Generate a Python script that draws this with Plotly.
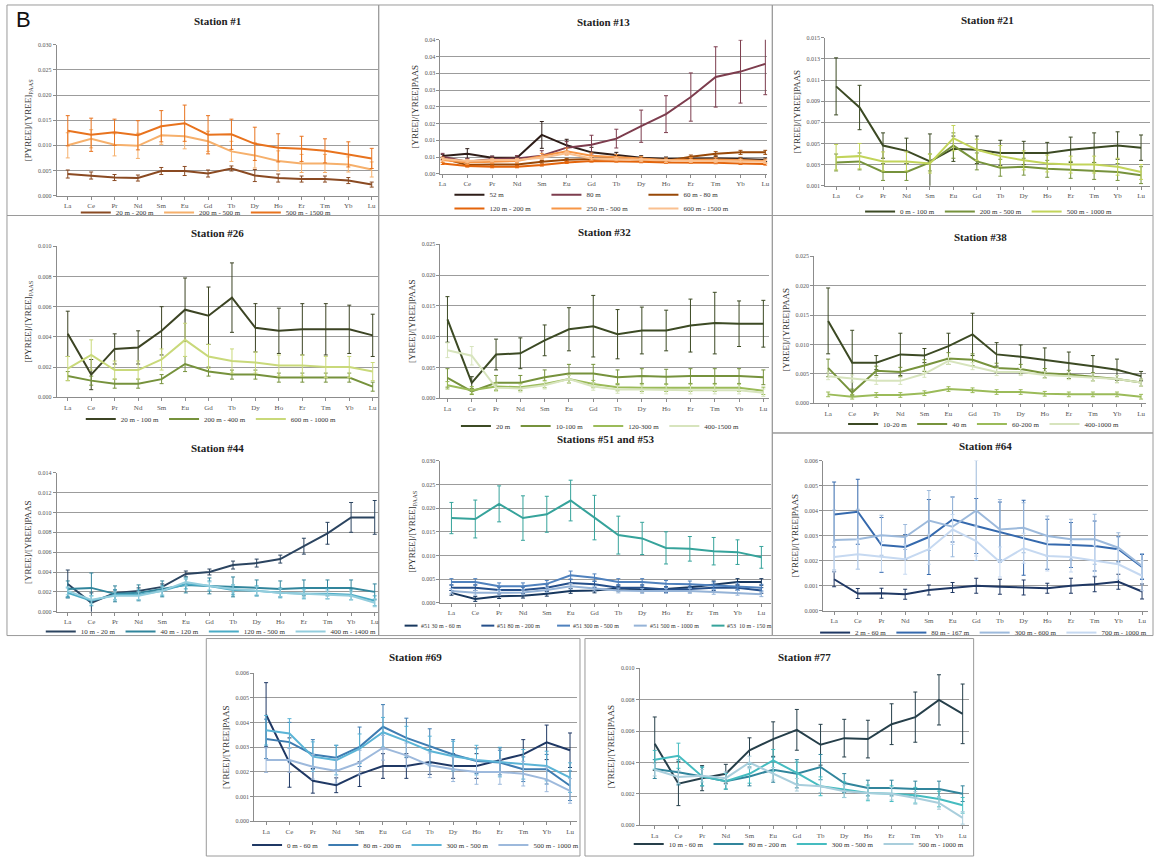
import plotly.graph_objects as go

W, H = 1157, 861
ELEMENTS = ["La", "Ce", "Pr", "Nd", "Sm", "Eu", "Gd", "Tb", "Dy", "Ho", "Er", "Tm", "Yb", "Lu"]

# ---------------- Station #1 ----------------
ST1_NAMES = ["20 m - 200 m", "200 m - 500 m", "500 m - 1500 m"]
ST1_VALUES = [
    [0.0043, 0.0040, 0.0036, 0.0035, 0.0049, 0.0049, 0.0044, 0.0054, 0.0040, 0.0035, 0.0033, 0.0033, 0.0030, 0.0022],
    [0.0100, 0.0113, 0.0101, 0.0099, 0.0120, 0.0118, 0.0108, 0.0088, 0.0080, 0.0069, 0.0064, 0.0064, 0.0062, 0.0052],
    [0.0129, 0.0121, 0.0126, 0.0120, 0.0138, 0.0144, 0.0121, 0.0122, 0.0103, 0.0095, 0.0093, 0.0089, 0.0082, 0.0074],
]
ST1_ERRORS = [
    [0.0008, 0.0007, 0.0006, 0.0006, 0.0007, 0.0009, 0.0007, 0.0005, 0.0012, 0.0008, 0.0006, 0.0006, 0.0006, 0.0005],
    [0.0025, 0.0018, 0.0022, 0.0025, 0.0018, 0.0025, 0.0020, 0.0020, 0.0025, 0.0020, 0.0018, 0.0018, 0.0015, 0.0015],
    [0.0030, 0.0033, 0.0026, 0.0029, 0.0031, 0.0036, 0.0038, 0.0030, 0.0033, 0.0028, 0.0025, 0.0024, 0.0025, 0.0020],
]
ST1_COLORS = ["#8a4a22", "#f6b06c", "#e8731e"]

# ---------------- Station #13 ----------------
ST13_NAMES = ["52 m", "80 m", "60 m - 80 m", "120 m - 200 m", "250 m - 500 m", "600 m - 1500 m"]
ST13_VALUES = [
    [0.0053, 0.0060, 0.0048, 0.0048, 0.0116, 0.0085, 0.0064, 0.0056, 0.0048, 0.0044, 0.0046, 0.0046, 0.0044, 0.0042],
    [0.0051, 0.0036, 0.0044, 0.0046, 0.0054, 0.0078, 0.0087, 0.0105, 0.0142, 0.0178, 0.0229, 0.0289, 0.0305, 0.0328],
    [0.0046, 0.0026, 0.0028, 0.0028, 0.0036, 0.0042, 0.0044, 0.0048, 0.0041, 0.0038, 0.0051, 0.0060, 0.0064, 0.0064],
    [0.0031, 0.0023, 0.0021, 0.0021, 0.0026, 0.0034, 0.0038, 0.0038, 0.0036, 0.0034, 0.0034, 0.0033, 0.0031, 0.0029],
    [0.0041, 0.0034, 0.0036, 0.0038, 0.0053, 0.0067, 0.0054, 0.0051, 0.0046, 0.0041, 0.0043, 0.0043, 0.0041, 0.0038],
    [0.0044, 0.0038, 0.0041, 0.0041, 0.0048, 0.0061, 0.0046, 0.0044, 0.0041, 0.0038, 0.0038, 0.0038, 0.0038, 0.0036],
]
ST13_ERRORS = [
    [0.0005, 0.0015, 0.0005, 0.0005, 0.0040, 0.0018, 0.0015, 0.0008, 0.0006, 0.0006, 0.0005, 0.0005, 0.0005, 0.0005],
    [0.0010, 0.0010, 0.0008, 0.0008, 0.0015, 0.0018, 0.0028, 0.0028, 0.0048, 0.0055, 0.0072, 0.0090, 0.0094, 0.0092],
    [0.0004, 0.0004, 0.0004, 0.0004, 0.0004, 0.0004, 0.0004, 0.0004, 0.0004, 0.0004, 0.0005, 0.0006, 0.0006, 0.0006],
    [0.0003, 0.0003, 0.0003, 0.0003, 0.0003, 0.0003, 0.0003, 0.0003, 0.0003, 0.0003, 0.0003, 0.0003, 0.0003, 0.0003],
    [0.0006, 0.0006, 0.0006, 0.0006, 0.0008, 0.0010, 0.0008, 0.0007, 0.0006, 0.0006, 0.0006, 0.0006, 0.0006, 0.0006],
    [0.0005, 0.0005, 0.0005, 0.0005, 0.0005, 0.0006, 0.0005, 0.0005, 0.0005, 0.0005, 0.0005, 0.0005, 0.0005, 0.0005],
]
ST13_COLORS = ["#2e1d18", "#7d3d4e", "#984807", "#e4640a", "#f79646", "#fac08f"]

# ---------------- Station #21 ----------------
ST21_NAMES = ["0 m - 100 m", "200 m - 500 m", "500 m - 1000 m"]
ST21_VALUES = [
    [0.0104, 0.0084, 0.0048, 0.0043, 0.0033, 0.0045, 0.0044, 0.0041, 0.0041, 0.0041, 0.0044, 0.0046, 0.0048, 0.0046],
    [0.0032, 0.0033, 0.0023, 0.0023, 0.0032, 0.0048, 0.0033, 0.0027, 0.0028, 0.0026, 0.0025, 0.0024, 0.0023, 0.0020],
    [0.0037, 0.0038, 0.0033, 0.0033, 0.0031, 0.0055, 0.0044, 0.0038, 0.0034, 0.0031, 0.0030, 0.0030, 0.0028, 0.0023],
]
ST21_ERRORS = [
    [0.0027, 0.0021, 0.0012, 0.0012, 0.0026, 0.0012, 0.0013, 0.0012, 0.0011, 0.0010, 0.0012, 0.0014, 0.0013, 0.0012],
    [0.0008, 0.0008, 0.0008, 0.0008, 0.0008, 0.0012, 0.0008, 0.0008, 0.0008, 0.0008, 0.0008, 0.0008, 0.0008, 0.0008],
    [0.0012, 0.0012, 0.0009, 0.0009, 0.0009, 0.0012, 0.0010, 0.0010, 0.0009, 0.0008, 0.0008, 0.0008, 0.0008, 0.0007],
]
ST21_COLORS = ["#3c4a24", "#76923c", "#c2d45a"]

# ---------------- Station #26 ----------------
ST26_NAMES = ["20 m - 100 m", "200 m - 400 m", "600 m - 1000 m"]
ST26_VALUES = [
    [0.0042, 0.0015, 0.0032, 0.0033, 0.0044, 0.0058, 0.0054, 0.0066, 0.0046, 0.0044, 0.0045, 0.0045, 0.0045, 0.0041],
    [0.0014, 0.0011, 0.0009, 0.0009, 0.0012, 0.0022, 0.0017, 0.0015, 0.0015, 0.0013, 0.0013, 0.0013, 0.0013, 0.0007],
    [0.0019, 0.0028, 0.0018, 0.0018, 0.0025, 0.0038, 0.0027, 0.0024, 0.0023, 0.0021, 0.0021, 0.0020, 0.0020, 0.0017],
]
ST26_ERRORS = [
    [0.0015, 0.0010, 0.0010, 0.0011, 0.0016, 0.0021, 0.0019, 0.0023, 0.0016, 0.0015, 0.0017, 0.0017, 0.0016, 0.0014],
    [0.0003, 0.0003, 0.0003, 0.0003, 0.0003, 0.0005, 0.0003, 0.0003, 0.0003, 0.0003, 0.0003, 0.0003, 0.0003, 0.0003],
    [0.0008, 0.0010, 0.0006, 0.0006, 0.0007, 0.0011, 0.0008, 0.0008, 0.0007, 0.0007, 0.0007, 0.0007, 0.0007, 0.0006],
]
ST26_COLORS = ["#3c4424", "#76923c", "#c9d97a"]

# ---------------- Station #32 ----------------
ST32_NAMES = ["20 m", "10-100 m", "120-300 m", "400-1500 m"]
ST32_VALUES = [
    [0.0128, 0.0025, 0.0071, 0.0073, 0.0094, 0.0112, 0.0117, 0.0104, 0.0110, 0.0110, 0.0118, 0.0122, 0.0121, 0.0121],
    [0.0033, 0.0011, 0.0025, 0.0025, 0.0034, 0.0040, 0.0040, 0.0034, 0.0036, 0.0035, 0.0036, 0.0036, 0.0036, 0.0034],
    [0.0021, 0.0013, 0.0019, 0.0018, 0.0023, 0.0031, 0.0023, 0.0018, 0.0017, 0.0017, 0.0017, 0.0017, 0.0017, 0.0012],
    [0.0078, 0.0069, 0.0017, 0.0016, 0.0021, 0.0031, 0.0019, 0.0014, 0.0014, 0.0013, 0.0013, 0.0013, 0.0013, 0.0009],
]
ST32_ERRORS = [
    [0.0037, 0.0010, 0.0025, 0.0025, 0.0025, 0.0035, 0.0050, 0.0040, 0.0038, 0.0033, 0.0043, 0.0050, 0.0037, 0.0038],
    [0.0015, 0.0005, 0.0012, 0.0012, 0.0012, 0.0015, 0.0015, 0.0012, 0.0012, 0.0012, 0.0012, 0.0012, 0.0012, 0.0012],
    [0.0006, 0.0006, 0.0006, 0.0006, 0.0006, 0.0006, 0.0006, 0.0006, 0.0006, 0.0006, 0.0006, 0.0006, 0.0006, 0.0006],
    [0.0012, 0.0015, 0.0006, 0.0006, 0.0006, 0.0006, 0.0006, 0.0006, 0.0006, 0.0006, 0.0006, 0.0006, 0.0006, 0.0006],
]
ST32_COLORS = ["#3c4a24", "#76923c", "#9bbb59", "#d7e4bd"]

# ---------------- Station #38 ----------------
ST38_NAMES = ["10-20 m", "40 m", "60-200 m", "400-1000 m"]
ST38_VALUES = [
    [0.0140, 0.0069, 0.0069, 0.0083, 0.0081, 0.0097, 0.0117, 0.0083, 0.0079, 0.0074, 0.0069, 0.0063, 0.0057, 0.0046],
    [0.0060, 0.0018, 0.0055, 0.0053, 0.0064, 0.0076, 0.0074, 0.0060, 0.0058, 0.0051, 0.0049, 0.0045, 0.0041, 0.0035],
    [0.0015, 0.0011, 0.0014, 0.0014, 0.0017, 0.0024, 0.0022, 0.0019, 0.0019, 0.0016, 0.0015, 0.0015, 0.0015, 0.0011],
    [0.0046, 0.0042, 0.0038, 0.0038, 0.0050, 0.0072, 0.0063, 0.0053, 0.0053, 0.0048, 0.0046, 0.0044, 0.0041, 0.0035],
]
ST38_ERRORS = [
    [0.0056, 0.0055, 0.0012, 0.0036, 0.0012, 0.0022, 0.0036, 0.0020, 0.0020, 0.0020, 0.0018, 0.0018, 0.0018, 0.0008],
    [0.0015, 0.0006, 0.0008, 0.0008, 0.0010, 0.0010, 0.0010, 0.0008, 0.0008, 0.0008, 0.0007, 0.0007, 0.0006, 0.0006],
    [0.0004, 0.0004, 0.0004, 0.0004, 0.0004, 0.0004, 0.0004, 0.0004, 0.0004, 0.0004, 0.0004, 0.0004, 0.0004, 0.0004],
    [0.0006, 0.0006, 0.0006, 0.0006, 0.0006, 0.0006, 0.0006, 0.0006, 0.0006, 0.0006, 0.0006, 0.0006, 0.0006, 0.0006],
]
ST38_COLORS = ["#3c4a24", "#77933c", "#9bbb59", "#d7e4bd"]

# ---------------- Station #44 ----------------
ST44_NAMES = ["10 m - 20 m", "40 m - 120 m", "120 m - 500 m", "400 m - 1400 m"]
ST44_VALUES = [
    [0.0028, 0.0009, 0.0019, 0.0021, 0.0025, 0.0038, 0.0040, 0.0047, 0.0049, 0.0053, 0.0066, 0.0079, 0.0095, 0.0095],
    [0.0023, 0.0024, 0.0018, 0.0019, 0.0023, 0.0027, 0.0026, 0.0025, 0.0024, 0.0023, 0.0024, 0.0024, 0.0024, 0.0020],
    [0.0019, 0.0011, 0.0017, 0.0017, 0.0021, 0.0028, 0.0026, 0.0022, 0.0021, 0.0019, 0.0018, 0.0018, 0.0017, 0.0011],
    [0.0021, 0.0012, 0.0016, 0.0016, 0.0021, 0.0030, 0.0026, 0.0023, 0.0021, 0.0019, 0.0018, 0.0017, 0.0016, 0.0009],
]
ST44_ERRORS = [
    [0.0014, 0.0010, 0.0003, 0.0003, 0.0003, 0.0003, 0.0003, 0.0004, 0.0004, 0.0004, 0.0008, 0.0011, 0.0015, 0.0017],
    [0.0008, 0.0015, 0.0008, 0.0008, 0.0008, 0.0008, 0.0008, 0.0010, 0.0008, 0.0008, 0.0008, 0.0008, 0.0008, 0.0008],
    [0.0005, 0.0005, 0.0005, 0.0005, 0.0005, 0.0005, 0.0005, 0.0005, 0.0005, 0.0005, 0.0005, 0.0005, 0.0005, 0.0005],
    [0.0004, 0.0004, 0.0004, 0.0004, 0.0004, 0.0004, 0.0004, 0.0004, 0.0004, 0.0004, 0.0004, 0.0004, 0.0004, 0.0004],
]
ST44_COLORS = ["#2b4460", "#31859c", "#4bacc6", "#93cddd"]

# ---------------- Stations #51 and #53 ----------------
ST51_NAMES = ["#51 30 m - 60 m", "#51 80 m - 200 m", "#51 300 m - 500 m", "#51 500 m - 1000 m", "#53  10 m - 150 m"]
ST51_VALUES = [
    [0.0021, 0.0008, 0.0014, 0.0015, 0.0019, 0.0025, 0.0026, 0.0030, 0.0028, 0.0029, 0.0033, 0.0039, 0.0044, 0.0044],
    [0.0032, 0.0032, 0.0027, 0.0027, 0.0032, 0.0042, 0.0039, 0.0032, 0.0032, 0.0028, 0.0029, 0.0032, 0.0032, 0.0026],
    [0.0044, 0.0044, 0.0035, 0.0035, 0.0040, 0.0058, 0.0053, 0.0044, 0.0044, 0.0040, 0.0039, 0.0037, 0.0035, 0.0032],
    [0.0025, 0.0021, 0.0021, 0.0022, 0.0027, 0.0035, 0.0030, 0.0026, 0.0025, 0.0025, 0.0025, 0.0023, 0.0021, 0.0018],
    [0.0179, 0.0177, 0.0209, 0.0179, 0.0187, 0.0216, 0.0180, 0.0143, 0.0136, 0.0116, 0.0114, 0.0109, 0.0107, 0.0096],
]
ST51_ERRORS = [
    [0.0005, 0.0005, 0.0005, 0.0005, 0.0005, 0.0005, 0.0005, 0.0005, 0.0005, 0.0005, 0.0006, 0.0007, 0.0007, 0.0007],
    [0.0006, 0.0006, 0.0006, 0.0006, 0.0006, 0.0008, 0.0007, 0.0006, 0.0006, 0.0006, 0.0006, 0.0006, 0.0006, 0.0006],
    [0.0007, 0.0007, 0.0007, 0.0007, 0.0007, 0.0009, 0.0008, 0.0007, 0.0007, 0.0007, 0.0007, 0.0007, 0.0007, 0.0007],
    [0.0005, 0.0005, 0.0005, 0.0005, 0.0005, 0.0006, 0.0005, 0.0005, 0.0005, 0.0005, 0.0005, 0.0005, 0.0005, 0.0005],
    [0.0033, 0.0040, 0.0038, 0.0047, 0.0038, 0.0043, 0.0047, 0.0040, 0.0034, 0.0034, 0.0026, 0.0029, 0.0026, 0.0023],
]
ST51_COLORS = ["#17375e", "#254f8a", "#4f81bd", "#95b3d7", "#36a39b"]

# ---------------- Station #64 ----------------
ST64_NAMES = ["2 m - 60 m", "80 m - 167 m", "300 m - 600 m", "700 m - 1000 m"]
ST64_VALUES = [
    [0.00126, 0.00069, 0.00070, 0.00066, 0.00083, 0.00093, 0.00100, 0.00096, 0.00093, 0.00090, 0.00100, 0.00106, 0.00116, 0.00077],
    [0.00385, 0.00396, 0.00263, 0.00255, 0.00295, 0.00365, 0.00339, 0.00315, 0.00292, 0.00266, 0.00263, 0.00259, 0.00246, 0.00175],
    [0.00283, 0.00286, 0.00302, 0.00295, 0.00361, 0.00336, 0.00401, 0.00325, 0.00332, 0.00299, 0.00286, 0.00286, 0.00252, 0.00179],
    [0.00215, 0.00226, 0.00216, 0.00206, 0.00246, 0.00325, 0.00279, 0.00195, 0.00250, 0.00219, 0.00215, 0.00200, 0.00186, 0.00140],
]
ST64_ERRORS = [
    [0.0003, 0.0002, 0.0002, 0.0002, 0.0002, 0.0002, 0.0003, 0.0003, 0.0003, 0.0002, 0.0003, 0.0003, 0.0003, 0.0003],
    [0.0013, 0.0013, 0.0011, 0.0005, 0.0015, 0.0009, 0.0011, 0.0012, 0.0015, 0.0010, 0.0009, 0.0010, 0.0005, 0.0005],
    [0.0012, 0.0012, 0.0008, 0.0005, 0.0012, 0.0012, 0.0020, 0.0012, 0.0010, 0.0008, 0.0008, 0.0010, 0.0006, 0.0005],
    [0.0006, 0.0006, 0.0006, 0.0006, 0.0006, 0.0006, 0.0006, 0.0006, 0.0006, 0.0006, 0.0006, 0.0006, 0.0006, 0.0006],
]
ST64_COLORS = ["#1f3864", "#3569ad", "#9dbadc", "#c6d9f1"]

# ---------------- Station #69 ----------------
ST69_NAMES = ["0 m - 60 m", "80 m - 200 m", "300 m - 500 m", "500 m - 1000 m"]
ST69_VALUES = [
    [0.00432, 0.00238, 0.00164, 0.00146, 0.00191, 0.00224, 0.00224, 0.00240, 0.00224, 0.00224, 0.00248, 0.00271, 0.00320, 0.00288],
    [0.00334, 0.00321, 0.00271, 0.00258, 0.00302, 0.00383, 0.00338, 0.00305, 0.00271, 0.00244, 0.00238, 0.00211, 0.00211, 0.00144],
    [0.00369, 0.00356, 0.00262, 0.00248, 0.00294, 0.00361, 0.00325, 0.00285, 0.00264, 0.00248, 0.00240, 0.00231, 0.00224, 0.00177],
    [0.00248, 0.00248, 0.00221, 0.00204, 0.00238, 0.00298, 0.00267, 0.00227, 0.00211, 0.00200, 0.00200, 0.00193, 0.00170, 0.00123],
]
ST69_ERRORS = [
    [0.0013, 0.0010, 0.0005, 0.0003, 0.0005, 0.0005, 0.0005, 0.0005, 0.0005, 0.0005, 0.0005, 0.0006, 0.0007, 0.0007],
    [0.0008, 0.0008, 0.0006, 0.0005, 0.0008, 0.0009, 0.0008, 0.0007, 0.0006, 0.0005, 0.0005, 0.0005, 0.0006, 0.0006],
    [0.0006, 0.0006, 0.0006, 0.0006, 0.0006, 0.0006, 0.0006, 0.0006, 0.0006, 0.0006, 0.0006, 0.0006, 0.0006, 0.0006],
    [0.0005, 0.0005, 0.0005, 0.0005, 0.0005, 0.0005, 0.0005, 0.0005, 0.0005, 0.0005, 0.0005, 0.0005, 0.0005, 0.0005],
]
ST69_COLORS = ["#1f3864", "#3e7cb1", "#5bb4d6", "#9db9dc"]

# ---------------- Station #77 ----------------
ST77_NAMES = ["10 m - 60 m", "80 m - 200 m", "300 m - 500 m", "500 m - 1000 m"]
ST77_VALUES = [
    [0.00520, 0.00265, 0.00300, 0.00328, 0.00477, 0.00549, 0.00608, 0.00513, 0.00555, 0.00549, 0.00644, 0.00689, 0.00799, 0.00710],
    [0.00358, 0.00337, 0.00311, 0.00280, 0.00311, 0.00354, 0.00328, 0.00371, 0.00269, 0.00237, 0.00237, 0.00231, 0.00231, 0.00201],
    [0.00417, 0.00443, 0.00311, 0.00280, 0.00328, 0.00413, 0.00333, 0.00248, 0.00227, 0.00206, 0.00201, 0.00191, 0.00167, 0.00127],
    [0.00354, 0.00307, 0.00316, 0.00300, 0.00400, 0.00328, 0.00258, 0.00248, 0.00216, 0.00206, 0.00201, 0.00174, 0.00142, 0.00047],
]
ST77_ERRORS = [
    [0.0017, 0.0014, 0.0008, 0.0006, 0.0008, 0.0011, 0.0013, 0.0013, 0.0012, 0.0012, 0.0013, 0.0016, 0.0016, 0.0019],
    [0.0006, 0.0008, 0.0006, 0.0005, 0.0006, 0.0008, 0.0009, 0.0008, 0.0006, 0.0005, 0.0005, 0.0005, 0.0005, 0.0005],
    [0.0006, 0.0008, 0.0006, 0.0005, 0.0006, 0.0007, 0.0007, 0.0006, 0.0005, 0.0005, 0.0005, 0.0005, 0.0005, 0.0005],
    [0.0004, 0.0004, 0.0004, 0.0004, 0.0004, 0.0004, 0.0004, 0.0004, 0.0004, 0.0004, 0.0004, 0.0004, 0.0004, 0.0004],
]
ST77_COLORS = ["#263f4a", "#31859c", "#45bcc0", "#a9cedc"]

Y_TITLE_P = "[PYREE]/[YREE]<sub>PAAS</sub>"
Y_TITLE_Y = "[YREE]/[YREE]PAAS"

# ---------------- layout geometry (pixels) ----------------
# legends: list of (y, series indices); "manual" legends are drawn as short lines + labels
PANELS = [
    dict(title="Station #1", data=(ST1_NAMES, ST1_VALUES, ST1_ERRORS, ST1_COLORS), ytitle=Y_TITLE_P,
         x0=55, x1=377, la=66, lu=371, top=42, bot=194, ymin=0, ymax=0.030, dtick=0.005, fmt=".3f",
         ty=18, legends=[(211, [0, 1, 2])], cx=205, lfs=7, ew=0),
    dict(title="Station #13", data=(ST13_NAMES, ST13_VALUES, ST13_ERRORS, ST13_COLORS), ytitle=Y_TITLE_Y,
         x0=440, x1=768, la=442, lu=766, top=37, bot=172, ymin=0, ymax=0.040, dtick=0.005,
         ticktext=["0.00", "0.01", "0.01", "0.02", "0.02", "0.03", "0.03", "0.04", "0.04"],
         ty=19, legends=[(193, [0, 1, 2]), (207, [3, 4, 5])], cx=595, lfs=7, ew=52),
    dict(title="Station #21", data=(ST21_NAMES, ST21_VALUES, ST21_ERRORS, ST21_COLORS), ytitle=Y_TITLE_Y,
         x0=826, x1=1152, la=837, lu=1143, top=35, bot=184, ymin=0.001, ymax=0.015, dtick=0.002, fmt=".3f",
         ty=17, legends=[(210, [0, 1, 2])], cx=990, lfs=7, ew=0),
    dict(title="Station #26", data=(ST26_NAMES, ST26_VALUES, ST26_ERRORS, ST26_COLORS), ytitle=Y_TITLE_P,
         x0=55, x1=377, la=66, lu=372, top=245, bot=397, ymin=0, ymax=0.010, dtick=0.002, fmt=".3f",
         ty=232, legends=[(419, [0, 1, 2])], cx=210, lfs=7, ew=0),
    dict(title="Station #32", data=(ST32_NAMES, ST32_VALUES, ST32_ERRORS, ST32_COLORS), ytitle=Y_TITLE_Y,
         x0=440, x1=770, la=447, lu=764, top=243, bot=398, ymin=0, ymax=0.025, dtick=0.005, fmt=".3f",
         ty=231, legends=[(426, [0, 1, 2, 3])], cx=600, lfs=7, ew=0),
    dict(title="Station #38", data=(ST38_NAMES, ST38_VALUES, ST38_ERRORS, ST38_COLORS), ytitle=Y_TITLE_Y,
         x0=815, x1=1148, la=829, lu=1143, top=255, bot=403, ymin=0, ymax=0.025, dtick=0.005, fmt=".3f",
         ty=236, legends=[(424, [0, 1, 2, 3])], cx=985, lfs=7, ew=0),
    dict(title="Station #44", data=(ST44_NAMES, ST44_VALUES, ST44_ERRORS, ST44_COLORS), ytitle=Y_TITLE_Y,
         x0=55, x1=377, la=66, lu=374, top=473, bot=613, ymin=0, ymax=0.014, dtick=0.002, fmt=".3f",
         ty=448, legends=[(633, [0, 1, 2, 3])], cx=210, lfs=7, ew=0),
    dict(title="Stations #51 and #53", data=(ST51_NAMES, ST51_VALUES, ST51_ERRORS, ST51_COLORS), ytitle=Y_TITLE_P,
         x0=440, x1=772, la=451, lu=762, top=461, bot=604, ymin=0, ymax=0.030, dtick=0.005, fmt=".3f",
         ty=439, legends=[(627, [0, 1, 2, 3, 4])], cx=590, lfs=6, ew=0,
         manual=dict(start=[404, 481, 557, 634, 712], line=13)),
    dict(title="Station #64", data=(ST64_NAMES, ST64_VALUES, ST64_ERRORS, ST64_COLORS), ytitle=Y_TITLE_Y,
         x0=824, x1=1150, la=835, lu=1144, top=461, bot=612, ymin=0, ymax=0.006, dtick=0.001, fmt=".3f",
         ty=446, legends=[(634, [0, 1, 2, 3])], cx=985, lfs=7, ew=0),
    dict(title="Station #69", data=(ST69_NAMES, ST69_VALUES, ST69_ERRORS, ST69_COLORS), ytitle=Y_TITLE_Y,
         x0=253, x1=577, la=265, lu=570, top=675, bot=824, ymin=0, ymax=0.006, dtick=0.001, fmt=".3f",
         ty=659, legends=[(848, [0, 1, 2, 3])], cx=415, lfs=7, ew=0),
    dict(title="Station #77", data=(ST77_NAMES, ST77_VALUES, ST77_ERRORS, ST77_COLORS), ytitle=Y_TITLE_Y,
         x0=640, x1=970, la=655, lu=964, top=670, bot=828, ymin=0, ymax=0.010, dtick=0.002, fmt=".3f",
         ty=659, legends=[(847, [0, 1, 2, 3])], cx=800, lfs=7, ew=0),
]

# panel frames (pixels): x0, y0, x1, y1
FRAMES = [
    (5, 2, 378, 214), (378, 2, 773, 214), (773, 2, 1155, 214),
    (5, 214, 378, 637), (378, 214, 773, 637), (773, 214, 1155, 433), (773, 433, 1155, 637),
    (205, 640, 580, 859), (585, 640, 975, 859),
]

FONT = "Liberation Serif"


def fx(px):
    return px / W


def fy(py):
    return 1 - py / H


fig = go.Figure()
layout = dict(
    width=W, height=H, margin=dict(l=0, r=0, t=0, b=0),
    paper_bgcolor="white", plot_bgcolor="white",
    font=dict(family=FONT, color="#333333", size=8),
    annotations=[], shapes=[],
)

legend_count = 0
for i, p in enumerate(PANELS, start=1):
    sfx = "" if i == 1 else str(i)
    names, values, errors, colors = p["data"]
    sp = (p["lu"] - p["la"]) / 13.0
    xr = [(p["x0"] - p["la"]) / sp, (p["x1"] - p["la"]) / sp]
    manual = p.get("manual")

    leg_ids = []
    if not manual:
        for (ly, idxs) in p["legends"]:
            legend_count += 1
            lid = "legend" if legend_count == 1 else f"legend{legend_count}"
            ld = dict(
                orientation="h", x=fx(p["cx"]), y=fy(ly), xanchor="center", yanchor="middle",
                font=dict(family=FONT, size=p["lfs"], color="#333333"), bgcolor="rgba(0,0,0,0)",
                itemwidth=30, tracegroupgap=0, itemclick=False, itemdoubleclick=False,
            )
            if p["ew"]:
                ld["entrywidth"] = p["ew"]
            layout[lid] = ld
            leg_ids.append((lid, idxs))
    else:
        ly = p["legends"][0][0]
        for k, sx in enumerate(manual["start"]):
            layout["shapes"].append(dict(
                type="line", xref="paper", yref="paper", x0=fx(sx), x1=fx(sx + manual["line"]),
                y0=fy(ly), y1=fy(ly), line=dict(color=colors[k], width=2),
            ))
            layout["annotations"].append(dict(
                text=names[k], x=fx(sx + manual["line"] + 1), y=fy(ly), xref="paper", yref="paper",
                showarrow=False, xanchor="left", yanchor="middle",
                font=dict(family=FONT, size=p["lfs"], color="#333333"),
            ))

    for k in range(len(names)):
        tr = dict(
            x=ELEMENTS, y=values[k], name=names[k], mode="lines",
            line=dict(color=colors[k], width=2),
            error_y=dict(type="data", array=errors[k], visible=True, color=colors[k], thickness=1, width=2),
            xaxis="x" + sfx, yaxis="y" + sfx,
        )
        if manual:
            tr["showlegend"] = False
        else:
            tr["legend"] = [l for l, idxs in leg_ids if k in idxs][0]
            tr["showlegend"] = True
        fig.add_trace(go.Scatter(**tr))

    ya = dict(
        domain=[fy(p["bot"]), fy(p["top"])], anchor="x" + sfx, range=[p["ymin"], p["ymax"]],
        tick0=p["ymin"], dtick=p["dtick"], showgrid=True, gridcolor="#9c9c9c", gridwidth=1,
        showline=True, linecolor="#8c8c8c", linewidth=1, ticks="outside", ticklen=3, tickcolor="#8c8c8c",
        tickfont=dict(family=FONT, size=6, color="#555555"), zeroline=False,
        title=dict(text=p["ytitle"], font=dict(family=FONT, size=9, color="#333333"), standoff=4),
    )
    if "ticktext" in p:
        n = len(p["ticktext"])
        ya["tickmode"] = "array"
        ya["tickvals"] = [p["ymin"] + j * p["dtick"] for j in range(n)]
        ya["ticktext"] = p["ticktext"]
    else:
        ya["tickformat"] = p["fmt"]
    xa = dict(
        domain=[fx(p["x0"]), fx(p["x1"])], anchor="y" + sfx, range=xr, type="category",
        showgrid=False, showline=True, linecolor="#8c8c8c", linewidth=1, ticks="outside", ticklen=3,
        tickcolor="#8c8c8c", tickfont=dict(family=FONT, size=7, color="#555555"), zeroline=False,
    )
    layout["xaxis" + sfx] = xa
    layout["yaxis" + sfx] = ya

    layout["annotations"].append(dict(
        text="<b>" + p["title"] + "</b>", x=fx((p["x0"] + p["x1"]) / 2), y=fy(p["ty"]),
        xref="paper", yref="paper", showarrow=False, xanchor="center", yanchor="middle",
        font=dict(family=FONT, size=11, color="#222222"),
    ))

for (a, b, c, d) in FRAMES:
    layout["shapes"].append(dict(
        type="rect", xref="paper", yref="paper", x0=fx(a), y0=fy(b), x1=fx(c), y1=fy(d),
        line=dict(color="#9a9a9a", width=1), fillcolor="rgba(0,0,0,0)", layer="below",
    ))

layout["annotations"].append(dict(
    text="B", x=fx(12), y=fy(17), xref="paper", yref="paper", showarrow=False,
    xanchor="left", yanchor="middle", font=dict(family="Liberation Sans", size=22, color="#111111"),
))

fig.update_layout(**layout)
fig.write_html("out.html", config={"displayModeBar": False},
               post_script="document.body.style.margin='0px';")
